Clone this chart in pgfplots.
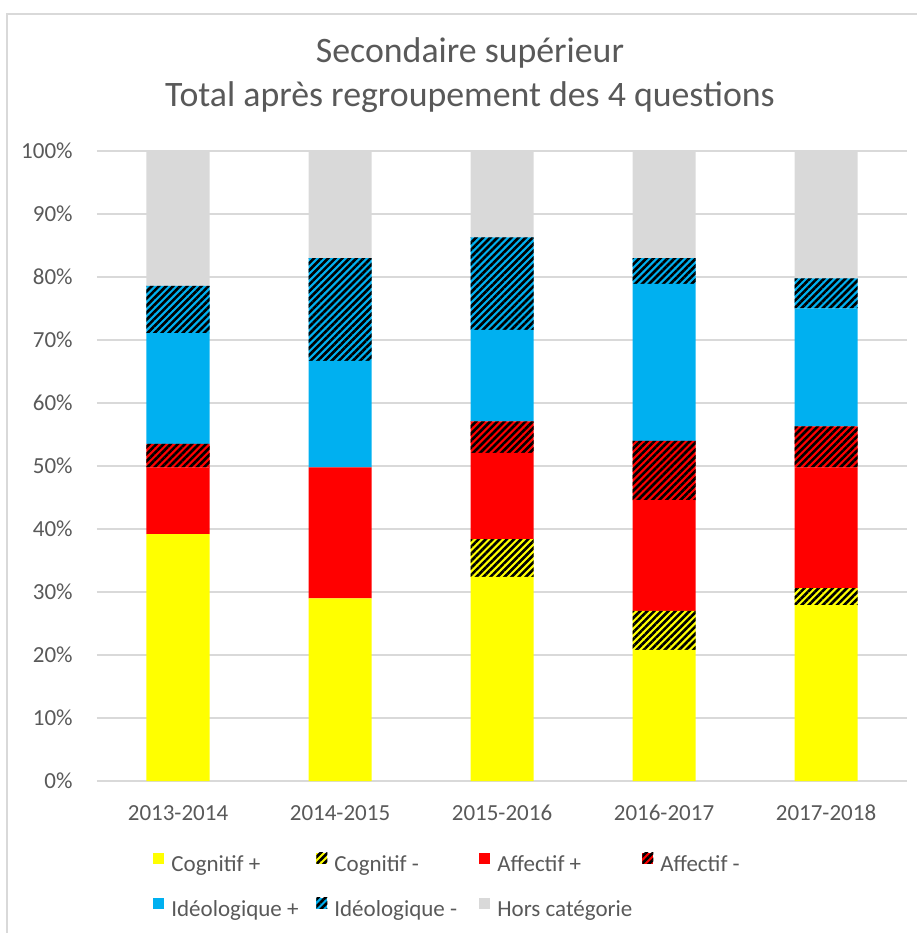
\documentclass[border=0pt]{standalone}
\usepackage{fontspec}
\setmainfont{Carlito}
\usepackage{pgfplots}
\usepackage{pgfplotstable}
\pgfplotsset{compat=1.18}
\usetikzlibrary{patterns.meta}
\definecolor{cogyellow}{HTML}{FFFF00}
\definecolor{affred}{HTML}{FF0000}
\definecolor{ideoblue}{HTML}{00B0F0}
\definecolor{horsgray}{HTML}{D9D9D9}
\definecolor{gridgray}{HTML}{D9D9D9}
\definecolor{textgray}{HTML}{595959}
\tikzset{hatch/.style={postaction={pattern color=black,pattern={Lines[angle=45,distance=2.5pt,line width=1.3pt]}}}}

% percentages per school year
\pgfplotstableread{
x cogp cogm affp affm ideop ideom hors
0 39.2 0.0 10.6 3.7 17.6 7.5 21.4
1 29.0 0.0 20.8 0.0 16.9 16.3 17.0
2 32.4 6.0 13.7 5.0 14.5 14.7 13.7
3 20.8 6.2 17.6 9.4 24.9 4.1 17.0
4 27.9 2.7 19.2 6.5 18.7 4.8 20.2
}\datatable

\newcommand{\lgd}[1]{\makebox[72.5pt][l]{#1}}

\begin{document}
\begin{tikzpicture}
\useasboundingbox (0,0) rectangle (458.5pt,466.5pt);
\draw[gridgray,line width=1pt] (3.5pt,0) -- (3.5pt,459.5pt) -- (458.5pt,459.5pt);
\node[anchor=base,text=textgray,font=\fontsize{17.9}{20}\selectfont] at (235pt,435pt) {Secondaire supérieur};
\node[anchor=base,text=textgray,font=\fontsize{17.9}{20}\selectfont] at (235pt,413pt) {Total après regroupement des 4 questions};
\begin{axis}[
  at={(48.5pt,76pt)},
  anchor=south west,
  scale only axis,
  width=405pt,
  height=315pt,
  ybar stacked,
  bar width=31.5pt,
  xmin=-0.5, xmax=4.5,
  ymin=0, ymax=100,
  xtick=data,
  xticklabels={2013-2014,2014-2015,2015-2016,2016-2017,2017-2018},
  ytick={0,10,...,100},
  yticklabels={0\%,10\%,20\%,30\%,40\%,50\%,60\%,70\%,80\%,90\%,100\%},
  major tick length=0pt,
  tick style={draw=none},
  axis line style={draw=none},
  ymajorgrids=true,
  grid style={gridgray,line width=0.75pt},
  tick label style={text=textgray,font=\fontsize{11.5}{13}\selectfont,inner sep=0pt},
  xticklabel style={anchor=base,yshift=-19.5pt},
  yticklabel style={anchor=east,xshift=-12pt},
  legend image code/.code={%
    \begin{pgfinterruptboundingbox}\path[#1,draw=none] (0pt,1.25pt) rectangle (5.5pt,6.75pt);\end{pgfinterruptboundingbox}%
    \path (0pt,1.25pt) (5.5pt,6.75pt);},
  legend columns=4,
  legend style={
    at={(0.0691,-0.113)},anchor=north west,
    draw=none,fill=none,inner sep=0pt,
    row sep=10.5pt,
    font=\fontsize{11.5}{13}\selectfont,
    text=textgray,
    nodes={inner sep=0pt,text height=8pt,text depth=2.5pt},
    /tikz/every odd column/.style={column sep=3.5pt},
    /tikz/every even column/.style={column sep=0pt},
  },
]
\addplot[fill=cogyellow,draw=none] table[x=x,y=cogp] {\datatable};
\addplot[fill=cogyellow,draw=none,hatch] table[x=x,y=cogm] {\datatable};
\addplot[fill=affred,draw=none] table[x=x,y=affp] {\datatable};
\addplot[fill=affred,draw=none,hatch] table[x=x,y=affm] {\datatable};
\addplot[fill=ideoblue,draw=none] table[x=x,y=ideop] {\datatable};
\addplot[fill=ideoblue,draw=none,hatch] table[x=x,y=ideom] {\datatable};
\addplot[fill=horsgray,draw=none] table[x=x,y=hors] {\datatable};
\legend{\lgd{Cognitif +},\lgd{Cognitif -},\lgd{Affectif +},\lgd{Affectif -},\lgd{Idéologique +},\lgd{Idéologique -},\lgd{Hors catégorie}}
\end{axis}
\end{tikzpicture}
\end{document}
